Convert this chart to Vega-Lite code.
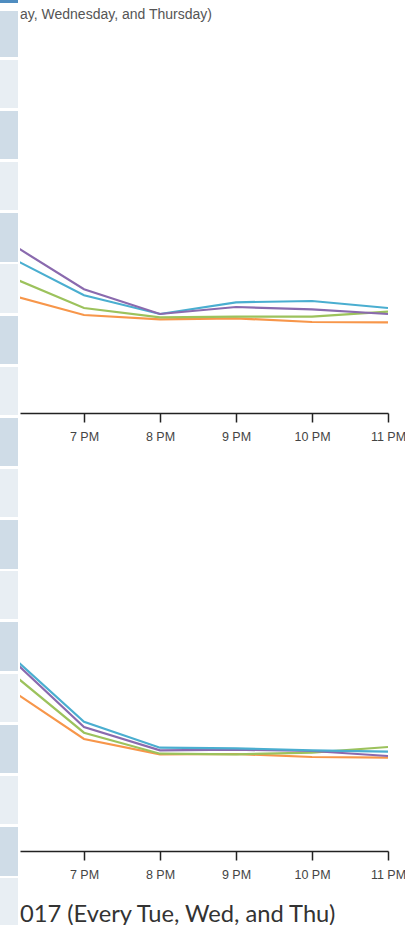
{
  "$schema": "https://vega.github.io/schema/vega-lite/v6.json",
  "padding": 0,
  "background": "white",
  "config": {"view": {"stroke": null}},
  "datasets": {
    "stripes": [
      {"y0": 0, "y1": 3, "shade": "top"},
      {"y0": 11, "y1": 57, "shade": "dark"},
      {"y0": 60, "y1": 108, "shade": "light"},
      {"y0": 111, "y1": 159, "shade": "dark"},
      {"y0": 162, "y1": 210, "shade": "light"},
      {"y0": 213, "y1": 262, "shade": "dark"},
      {"y0": 264, "y1": 313, "shade": "light"},
      {"y0": 316, "y1": 364, "shade": "dark"},
      {"y0": 367, "y1": 415, "shade": "light"},
      {"y0": 418, "y1": 466, "shade": "dark"},
      {"y0": 469, "y1": 517, "shade": "light"},
      {"y0": 520, "y1": 569, "shade": "dark"},
      {"y0": 571, "y1": 619, "shade": "light"},
      {"y0": 622, "y1": 671, "shade": "dark"},
      {"y0": 674, "y1": 722, "shade": "light"},
      {"y0": 725, "y1": 773, "shade": "dark"},
      {"y0": 776, "y1": 824, "shade": "light"},
      {"y0": 827, "y1": 876, "shade": "dark"},
      {"y0": 878, "y1": 925, "shade": "light"}
    ],
    "top": [
      {"hour": 18, "series": "Orange", "value": 118.6},
      {"hour": 19, "series": "Orange", "value": 98},
      {"hour": 20, "series": "Orange", "value": 93.7},
      {"hour": 21, "series": "Orange", "value": 94.7},
      {"hour": 22, "series": "Orange", "value": 91},
      {"hour": 23, "series": "Orange", "value": 90.7},
      {"hour": 18, "series": "Green", "value": 137.1},
      {"hour": 19, "series": "Green", "value": 105},
      {"hour": 20, "series": "Green", "value": 95.7},
      {"hour": 21, "series": "Green", "value": 96.3},
      {"hour": 22, "series": "Green", "value": 96.3},
      {"hour": 23, "series": "Green", "value": 101.3},
      {"hour": 18, "series": "Aqua", "value": 156.8},
      {"hour": 19, "series": "Aqua", "value": 117.7},
      {"hour": 20, "series": "Aqua", "value": 99},
      {"hour": 21, "series": "Aqua", "value": 110.7},
      {"hour": 22, "series": "Aqua", "value": 112},
      {"hour": 23, "series": "Aqua", "value": 105},
      {"hour": 18, "series": "Purple", "value": 171.2},
      {"hour": 19, "series": "Purple", "value": 123.7},
      {"hour": 20, "series": "Purple", "value": 99},
      {"hour": 21, "series": "Purple", "value": 106},
      {"hour": 22, "series": "Purple", "value": 103.7},
      {"hour": 23, "series": "Purple", "value": 99}
    ],
    "bottom": [
      {"hour": 18, "series": "Orange", "value": 163.1},
      {"hour": 19, "series": "Orange", "value": 112},
      {"hour": 20, "series": "Orange", "value": 96.7},
      {"hour": 21, "series": "Orange", "value": 97},
      {"hour": 22, "series": "Orange", "value": 94},
      {"hour": 23, "series": "Orange", "value": 93.3},
      {"hour": 18, "series": "Green", "value": 180.9},
      {"hour": 19, "series": "Green", "value": 118.3},
      {"hour": 20, "series": "Green", "value": 97.3},
      {"hour": 21, "series": "Green", "value": 96.7},
      {"hour": 22, "series": "Green", "value": 98.3},
      {"hour": 23, "series": "Green", "value": 104},
      {"hour": 18, "series": "Purple", "value": 195.2},
      {"hour": 19, "series": "Purple", "value": 124},
      {"hour": 20, "series": "Purple", "value": 100.7},
      {"hour": 21, "series": "Purple", "value": 101.3},
      {"hour": 22, "series": "Purple", "value": 100},
      {"hour": 23, "series": "Purple", "value": 95},
      {"hour": 18, "series": "Aqua", "value": 198.2},
      {"hour": 19, "series": "Aqua", "value": 129.3},
      {"hour": 20, "series": "Aqua", "value": 103.3},
      {"hour": 21, "series": "Aqua", "value": 102.7},
      {"hour": 22, "series": "Aqua", "value": 100.7},
      {"hour": 23, "series": "Aqua", "value": 99.3}
    ]
  },
  "spacing": 2,
  "resolve": {"scale": {"color": "independent", "y": "independent"}},
  "hconcat": [
    {
      "width": 18,
      "height": 925,
      "data": {"name": "stripes"},
      "mark": {"type": "rect"},
      "encoding": {
        "y": {"field": "y0", "type": "quantitative", "scale": {"domain": [0, 925], "reverse": true, "nice": false, "zero": false}, "axis": null},
        "y2": {"field": "y1"},
        "color": {"field": "shade", "type": "nominal", "scale": {"domain": ["top", "dark", "light"], "range": ["#4f8dc0", "#cfdce7", "#e8eef3"]}, "legend": null}
      }
    },
    {
      "spacing": 17,
      "resolve": {"scale": {"y": "independent"}},
      "vconcat": [
        {
          "width": 368,
          "height": 413,
          "title": {"text": "ay, Wednesday, and Thursday)", "anchor": "start", "font": "Liberation Sans", "fontSize": 14, "fontWeight": "normal", "color": "#555555", "offset": -22},
          "data": {"name": "top"},
          "mark": {"type": "line", "strokeWidth": 2.2, "clip": true},
          "encoding": {
            "x": {"field": "hour", "type": "quantitative", "scale": {"domain": [18.158, 23], "nice": false, "zero": false},
              "axis": {"title": null, "grid": false, "values": [19, 20, 21, 22, 23], "labelExpr": "(datum.value - 12) + ' PM'", "domainColor": "#222222", "domainWidth": 1.5, "tickColor": "#222222", "tickWidth": 1.5, "tickSize": 9, "labelPadding": 8, "labelFont": "Liberation Sans", "labelFontSize": 12.5, "labelColor": "#444444", "labelFlush": false}},
            "y": {"field": "value", "type": "quantitative", "scale": {"domain": [0, 413], "nice": false}, "axis": null},
            "color": {"field": "series", "type": "nominal", "scale": {"domain": ["Orange", "Green", "Aqua", "Purple"], "range": ["#f7964a", "#9cc25c", "#4aaed0", "#8a6aae"]}, "legend": null}
          }
        },
        {
          "width": 368,
          "height": 391,
          "title": {"text": "017 (Every Tue, Wed, and Thu)", "orient": "bottom", "anchor": "start", "font": "Lato", "fontSize": 23.7, "fontWeight": "normal", "color": "#333333", "offset": 22},
          "data": {"name": "bottom"},
          "mark": {"type": "line", "strokeWidth": 2.2, "clip": true},
          "encoding": {
            "x": {"field": "hour", "type": "quantitative", "scale": {"domain": [18.158, 23], "nice": false, "zero": false},
              "axis": {"title": null, "grid": false, "values": [19, 20, 21, 22, 23], "labelExpr": "(datum.value - 12) + ' PM'", "domainColor": "#222222", "domainWidth": 1.5, "tickColor": "#222222", "tickWidth": 1.5, "tickSize": 9, "labelPadding": 8, "labelFont": "Liberation Sans", "labelFontSize": 12.5, "labelColor": "#444444", "labelFlush": false}},
            "y": {"field": "value", "type": "quantitative", "scale": {"domain": [0, 391], "nice": false}, "axis": null},
            "color": {"field": "series", "type": "nominal", "scale": {"domain": ["Orange", "Green", "Aqua", "Purple"], "range": ["#f7964a", "#9cc25c", "#4aaed0", "#8a6aae"]}, "legend": null}
          }
        }
      ]
    }
  ]
}
